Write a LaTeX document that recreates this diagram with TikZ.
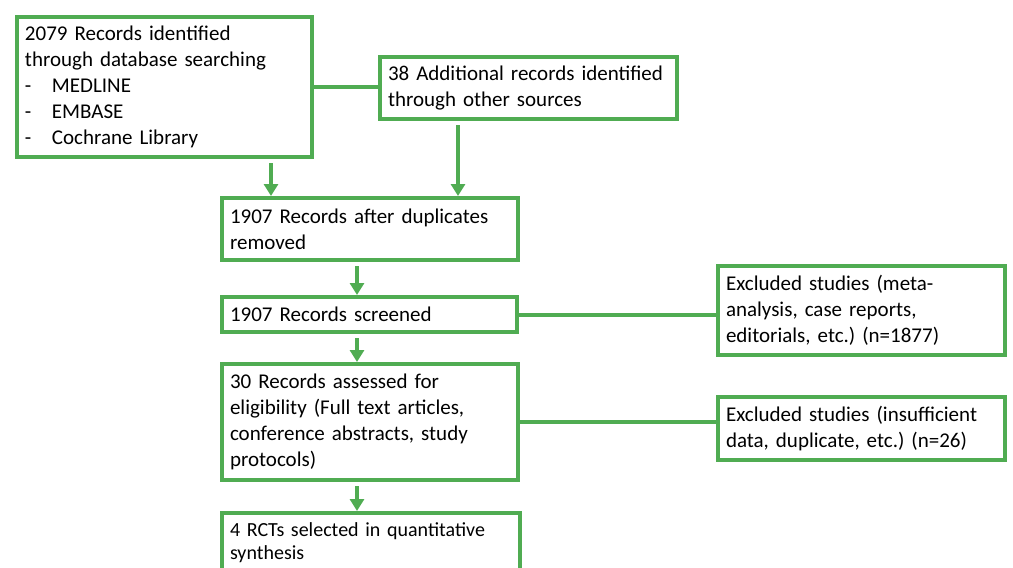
\documentclass[tikz,border=0pt]{standalone}
\usepackage{fontspec}
\setmainfont{Carlito}
\frenchspacing
\usetikzlibrary{positioning}
\usetikzlibrary{arrows.meta}
\definecolor{boxgreen}{RGB}{80,172,82}

\begin{document}
\begin{tikzpicture}[x=0.5pt, y=-0.5pt,
	box/.style={draw=boxgreen, line width=2pt, rectangle, anchor=north west, align=left, inner xsep=4pt, inner ysep=2pt, font=\fontsize{10.5}{13}\selectfont},
	link/.style={draw=boxgreen, line width=2pt},
	arr/.style={draw=boxgreen, line width=2pt, -{Triangle[width=7pt,length=6pt]}, shorten <=2pt}]
	\useasboundingbox (0,0) rectangle (1013,568);
	\clip (0,0) rectangle (1013,568);
	\newcommand{\itm}[1]{\makebox[13.5pt][l]{-}#1}

	\node[box, minimum width=147.5pt, minimum height=70pt, text width=139.5pt] (rec) at (15,15) {2079 Records identified\\through database searching\\\itm{MEDLINE}\\\itm{EMBASE}\\\itm{Cochrane Library}};
	\node[box, minimum width=148.5pt, minimum height=31pt, text width=140.5pt] (add) at (378,55) {38 Additional records identified\\through other sources};
	\node[box, minimum width=148pt, minimum height=31pt, text width=140pt] (dup) at (220,196) {1907 Records after duplicates\\removed};
	\node[box, minimum width=147.5pt, minimum height=17.5pt, text width=139.5pt] (scr) at (220,295) {1907 Records screened};
	\node[box, minimum width=143.5pt, minimum height=44.5pt, text width=135.5pt] (exa) at (716,264) {Excluded studies (meta-\\analysis, case reports,\\editorials, etc.) (n=1877)};
	\node[box, minimum width=148pt, minimum height=58pt, text width=140pt] (elig) at (220,362) {30 Records assessed for\\eligibility (Full text articles,\\conference abstracts, study\\protocols)};
	\node[box, minimum width=143.5pt, minimum height=31.5pt, text width=135.5pt] (exb) at (716,395) {Excluded studies (insufficient\\data, duplicate, etc.) (n=26)};
	\node[box, minimum width=149pt, minimum height=30pt, text width=141pt, font=\fontsize{10}{11.5}\selectfont] (incl) at (220,511) {4 RCTs selected in quantitative\\synthesis};

	\draw[link] (rec.east) -- (rec.east -| add.west);
	\draw[arr] ([xshift=-21.5pt]rec.south east) -- ([xshift=-21.5pt]rec.south east |- dup.north);
	\draw[arr] ([xshift=40pt]add.south west) -- ([xshift=40pt]add.south west |- dup.north);
	\draw[arr] ([xshift=68.5pt]dup.south west) -- ([xshift=68.5pt]scr.north west);
	\draw[link] (scr.east) -- (scr.east -| exa.west);
	\draw[arr] ([xshift=68.5pt]scr.south west) -- ([xshift=68.5pt]elig.north west);
	\draw[link] (elig.east) -- (elig.east -| exb.west);
	\draw[arr] ([xshift=68.5pt]elig.south west) -- ([xshift=68.5pt]incl.north west);
\end{tikzpicture}
\end{document}
